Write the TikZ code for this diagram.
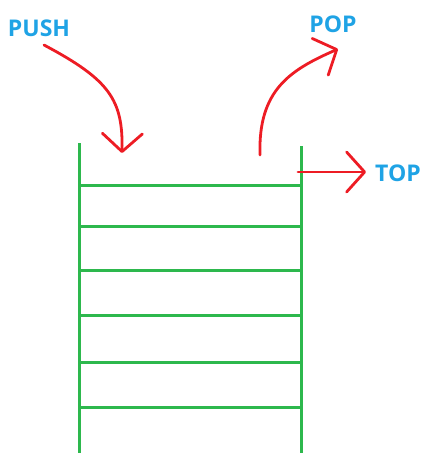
\documentclass[tikz,border=0pt]{standalone}
\usepackage{fontspec}
\setmainfont{Open Sans}
\usetikzlibrary{arrows.meta}
\definecolor{wallgreen}{HTML}{2DB84D}
\definecolor{arrowred}{HTML}{ED1C24}
\definecolor{labelblue}{HTML}{1FA3E5}
\begin{document}
\begin{tikzpicture}[x=1pt,y=-1pt,
  wall/.style={draw=wallgreen,line width=3pt},
  opname/.style={text=labelblue,font=\fontsize{23}{23}\selectfont\bfseries,inner sep=0pt},
  flow/.style={draw=arrowred,line width=2.8pt,line cap=round,
    -{Straight Barb[length=18pt,width=40pt,line width=2.8pt,round]}}]
  \useasboundingbox (0,0) rectangle (425,453);
  % stack walls
  \draw[wall] (79,143) -- (79,453);
  \draw[wall] (301,146) -- (301,453);
  % slots
  \foreach \y in {185,226,270,315,362,407}
    \draw[wall] (79,\y) -- (301,\y);
  % labels
  \node[opname] (push) at (39,28) {PUSH};
  \node[opname] (pop) at (333,24) {POP};
  \node[opname] (top) at (398,173) {TOP};
  % anchor points of the arrows
  \coordinate (pushin) at (122,153);
  \coordinate (popout) at (260,155);
  \coordinate (popend) at (338,49);
  \coordinate (topfrom) at (298,172);
  % arrows
  \draw[flow] (44,45) .. controls (110,80) and (123,100) .. (pushin);
  \draw[flow] (popout) .. controls (258,90) and (290,70) .. (popend);
  \draw[flow] (topfrom) -- (366,172);
\end{tikzpicture}
\end{document}
